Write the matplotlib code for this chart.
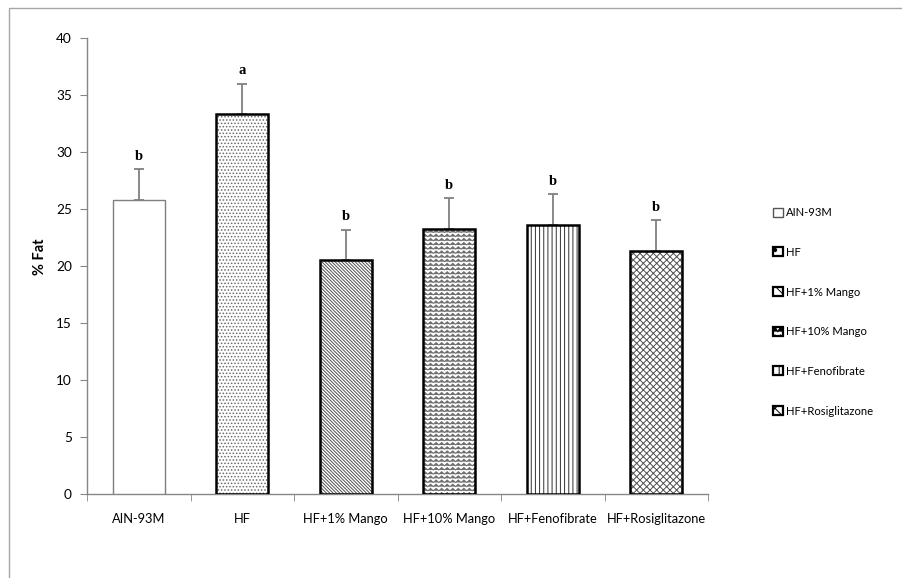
import warnings
import numpy as np
import matplotlib
matplotlib.use("Agg")
import matplotlib.pyplot as plt
import matplotlib.hatch as mhatch
from matplotlib.path import Path
from matplotlib.patches import Patch, Rectangle

warnings.filterwarnings("ignore")

# ---------------- data ----------------
categories = ["AIN-93M", "HF", "HF+1% Mango", "HF+10% Mango", "HF+Fenofibrate", "HF+Rosiglitazone"]
values = [25.8, 33.3, 20.5, 23.25, 23.6, 21.3]
errors = [2.7, 2.7, 2.7, 2.7, 2.7, 2.75]
letters = ["b", "a", "b", "b", "b", "b"]
yticks = [0, 5, 10, 15, 20, 25, 30, 35, 40]

# ---------------- custom zigzag hatch ----------------
class ZigzagHatch(mhatch.HatchPatternBase):
    def __init__(self, hatch, density):
        self.num_rows = int(hatch.count('z') * density)
        self.seg = 36
        self.num_vertices = self.num_rows * (self.seg + 1) if self.num_rows else 0

    def set_vertices_and_codes(self, vertices, codes):
        n = self.num_rows
        pts = self.seg + 1
        xs = np.linspace(0, 1, pts)
        amp = 0.3 / n
        off = np.where(np.arange(pts) % 2 == 0, -amp, amp)
        for i in range(n):
            y = (i + 0.5) / n
            vertices[i * pts:(i + 1) * pts, 0] = xs
            vertices[i * pts:(i + 1) * pts, 1] = y + off
            codes[i * pts] = Path.MOVETO
            codes[i * pts + 1:(i + 1) * pts] = Path.LINETO

mhatch._hatch_types.append(ZigzagHatch)
mhatch._validate_hatch_pattern = lambda h: None

hatches = [None, ".....", "\\" * 10, "zzzz", "||||", "xxxxx"]
legend_hatches = [None, ".", "\\\\\\", "zz", "||", "xx"]
hatch_colors = ["white", "#6a6a6a", "#505050", "#6e6e6e", "#303030", "#505050"]
edgecolors = ["#7f7f7f", "black", "black", "black", "black", "black"]
linewidths = [1.0, 1.8, 1.8, 1.8, 1.8, 1.8]

plt.rcParams["hatch.linewidth"] = 0.7

W, H = 902, 578
fig = plt.figure(figsize=(W / 100, H / 100), dpi=100)
fig.patch.set_facecolor("white")

# outer border (top & left visible)
fig.add_artist(Rectangle((9 / W, -0.1), 2.0, 1.1 - 8 / H, transform=fig.transFigure,
                         fill=False, edgecolor="#a6a6a6", linewidth=1.0))

ax = fig.add_axes([87 / W, (H - 494) / H, (708 - 87) / W, (494 - 38) / H])
x = np.arange(len(categories))

for i in range(len(categories)):
    # hatch layer
    ax.bar(x[i], values[i], width=0.5, facecolor="white", edgecolor=hatch_colors[i],
           linewidth=0, hatch=hatches[i], zorder=3)
    # outline layer
    ax.bar(x[i], values[i], width=0.5, fill=False, edgecolor=edgecolors[i],
           linewidth=linewidths[i], zorder=4)

ax.errorbar(x, values, yerr=[np.zeros(len(values)), errors], fmt="none",
            ecolor="#808080", elinewidth=1.3, capsize=3.5, capthick=1.3, zorder=2)

for i in range(len(categories)):
    ax.text(x[i], values[i] + errors[i] + 0.55, letters[i], ha="center", va="bottom",
            fontfamily="Liberation Serif", fontweight="bold", fontsize=10.5)

ax.set_xlim(-0.5, len(categories) - 0.5)
ax.set_ylim(0, 40)
ax.set_yticks(yticks)
ax.set_xticks(x)
ax.set_xticklabels(categories, fontfamily="Lato", fontsize=9.3)
ax.set_xticks(np.arange(-0.5, len(categories), 1.0), minor=True)
ax.tick_params(axis="x", which="major", length=0, pad=14)
ax.tick_params(axis="x", which="minor", length=5, color="#868686", direction="out")
ax.tick_params(axis="y", length=5, color="#868686", direction="out", pad=6)
for lab in ax.get_yticklabels():
    lab.set_fontfamily("Lato")
    lab.set_fontsize(9.8)
for s in ["top", "right"]:
    ax.spines[s].set_visible(False)
for s in ["left", "bottom"]:
    ax.spines[s].set_color("#868686")
    ax.spines[s].set_linewidth(1.0)

fig.text(40 / W, 1 - 257 / H, "% Fat", rotation=90, ha="center", va="center",
         fontfamily="Lato", fontweight="bold", fontsize=10.5)

# legend
handles = [Patch(facecolor="white", edgecolor=("#555555" if i == 0 else "black"),
                 linewidth=(1.0 if i == 0 else 1.6),
                 hatch=legend_hatches[i], label=categories[i]) for i in range(len(categories))]
leg = fig.legend(handles=handles, loc="upper left", bbox_to_anchor=(763 / W, 1 - 197 / H),
                 frameon=False, handlelength=0.85, handleheight=0.85, handletextpad=0.3,
                 labelspacing=2.55, prop={"family": "Lato", "size": 8.1})

fig.savefig("out.png", dpi=100, facecolor="white")
